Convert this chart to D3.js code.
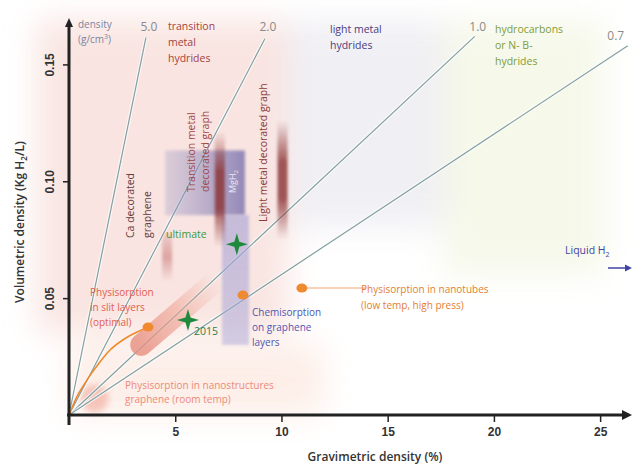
<!DOCTYPE html>
<html><head><meta charset="utf-8">
<script src="https://cdn.jsdelivr.net/npm/d3@7"></script>
<style>
html,body{margin:0;padding:0;background:#fff;}
svg{display:block;font-family:"Open Sans",sans-serif;}
</style></head>
<body><svg id="c" width="632" height="468"></svg>
<script>
// ---- data ----
const xTicks = [5, 10, 15, 20, 25];
const yTicks = [0.05, 0.10, 0.15];
const yTickLabels = ["0.05", "0.10", "0.15"];

const densityLabels = ["5.0", "2.0", "1.0", "0.7"];
const densityEndX = [3.62, 9.22, 19.1, 26.3];
const densityEndY = [0.1615, 0.161, 0.162, 0.158];

// background material classes (x0,x1,y0,y1)
const regionNames = ["transition metal hydrides", "light metal hydrides", "hydrocarbons", "physisorption RT"];
const regionX0 = [-1.5, 10.3, 17.6, 0.0];
const regionX1 = [10.3, 17.6, 25.2, 12.0];
const regionY0 = [0.035, 0.080, 0.060, 0.000];
const regionY1 = [0.169, 0.169, 0.169, 0.030];
const regionColors = ["#f7dcd7", "#ebeaf1", "#f3f6e3", "#fce8e0"];

// purple boxes
const boxNames = ["MgH2", "chemisorption"];
const boxX0 = [4.52, 7.2];
const boxX1 = [8.28, 8.47];
const boxY0 = [0.0855, 0.030];
const boxY1 = [0.1132, 0.0855];

// vertical decorated-graphene bars
const barX = [7.1, 10.05, 4.62];
const barY0 = [0.072, 0.075, 0.057];
const barY1 = [0.121, 0.126, 0.078];

// physisorption in slit layers band
const bandX = [3.4, 7.0];
const bandY = [0.030, 0.058];

// orange curve (physisorption, low temperature)
const curveX = [0, 0.3, 0.85, 1.4, 1.93, 2.6, 3.2, 3.72];
const curveY = [0, 0.0065, 0.015, 0.022, 0.0278, 0.0325, 0.0355, 0.0376];

// points
const orangeX = [3.72, 8.19, 10.96];
const orangeY = [0.0376, 0.0513, 0.0543];
const starX = [7.9, 5.6];
const starY = [0.0731, 0.0406];
const starLabels = ["ultimate", "2015"];
const nanotubeLineEndX = 14.0;

// ---- drawing ----
const svg = d3.select("#c");
const x = d3.scaleLinear().domain([0, 26.5]).range([69, 632]);
const y = d3.scaleLinear().domain([0, 0.169]).range([415, 20]);

const defs = svg.append("defs");
defs.append("filter").attr("id", "blur").attr("x", "-50%").attr("y", "-50%").attr("width", "200%").attr("height", "200%")
  .append("feGaussianBlur").attr("stdDeviation", 16);
defs.append("filter").attr("id", "blur2").attr("x", "-50%").attr("y", "-50%").attr("width", "200%").attr("height", "200%")
  .append("feGaussianBlur").attr("stdDeviation", 3);
defs.append("filter").attr("id", "blur1").attr("x", "-50%").attr("y", "-50%").attr("width", "200%").attr("height", "200%")
  .append("feGaussianBlur").attr("stdDeviation", 1.5);

// vertical gradient for bars
const vg = defs.append("linearGradient").attr("id", "barg").attr("x1", 0).attr("y1", 0).attr("x2", 0).attr("y2", 1);
vg.append("stop").attr("offset", "0%").attr("stop-color", "#8a2e2e").attr("stop-opacity", 0);
vg.append("stop").attr("offset", "35%").attr("stop-color", "#8a2e2e").attr("stop-opacity", 0.8);
vg.append("stop").attr("offset", "65%").attr("stop-color", "#8a2e2e").attr("stop-opacity", 0.8);
vg.append("stop").attr("offset", "100%").attr("stop-color", "#8a2e2e").attr("stop-opacity", 0);
const vg2 = defs.append("linearGradient").attr("id", "barg2").attr("x1", 0).attr("y1", 0).attr("x2", 0).attr("y2", 1);
vg2.append("stop").attr("offset", "0%").attr("stop-color", "#c87a78").attr("stop-opacity", 0.2);
vg2.append("stop").attr("offset", "50%").attr("stop-color", "#c87a78").attr("stop-opacity", 0.6);
vg2.append("stop").attr("offset", "100%").attr("stop-color", "#c87a78").attr("stop-opacity", 0);
// box gradient
const hg = defs.append("linearGradient").attr("id", "boxg").attr("x1", 0).attr("y1", 0).attr("x2", 1).attr("y2", 0);
hg.append("stop").attr("offset", "0%").attr("stop-color", "#9a96c4").attr("stop-opacity", 0.3);
hg.append("stop").attr("offset", "100%").attr("stop-color", "#7872ad").attr("stop-opacity", 0.8);
const cg = defs.append("linearGradient").attr("id", "chemg").attr("x1", 0).attr("y1", 0).attr("x2", 0).attr("y2", 1);
cg.append("stop").attr("offset", "0%").attr("stop-color", "#a9a6d6").attr("stop-opacity", 0.65);
cg.append("stop").attr("offset", "100%").attr("stop-color", "#a9a6d6").attr("stop-opacity", 0.5);
// band gradient
const bg = defs.append("linearGradient").attr("id", "bandg").attr("gradientUnits", "userSpaceOnUse")
  .attr("x1", x(bandX[0])).attr("y1", y(bandY[0])).attr("x2", x(bandX[1])).attr("y2", y(bandY[1]));
bg.append("stop").attr("offset", "0%").attr("stop-color", "#e78f80").attr("stop-opacity", 0.8);
bg.append("stop").attr("offset", "50%").attr("stop-color", "#eea090").attr("stop-opacity", 0.55);
bg.append("stop").attr("offset", "100%").attr("stop-color", "#f2b0a0").attr("stop-opacity", 0);

// background regions
const bgG = svg.append("g").attr("filter", "url(#blur)").attr("opacity", 0.75);
regionNames.forEach((n, i) => {
  bgG.append("rect")
    .attr("x", x(regionX0[i])).attr("y", y(regionY1[i]))
    .attr("width", x(regionX1[i]) - x(regionX0[i]))
    .attr("height", y(regionY0[i]) - y(regionY1[i]))
    .attr("fill", regionColors[i]);
});
// pink blob near origin
svg.append("circle").attr("cx", x(1.2)).attr("cy", y(0.007)).attr("r", 14)
  .attr("fill", "#f0a090").attr("opacity", 0.55).attr("filter", "url(#blur2)");

// density lines
const lg = svg.append("g");
densityLabels.forEach((lab, i) => {
  lg.append("line").attr("x1", x(0)).attr("y1", y(0)).attr("x2", x(densityEndX[i])).attr("y2", y(densityEndY[i]))
    .attr("stroke", "#fff").attr("stroke-width", 3.5).attr("opacity", 0.7);
  lg.append("line").attr("x1", x(0)).attr("y1", y(0)).attr("x2", x(densityEndX[i])).attr("y2", y(densityEndY[i]))
    .attr("stroke", "#839fa1").attr("stroke-width", 1.2);
});

// purple boxes
svg.append("rect").attr("x", x(boxX0[0])).attr("y", y(boxY1[0]))
  .attr("width", x(boxX1[0]) - x(boxX0[0])).attr("height", y(boxY0[0]) - y(boxY1[0]))
  .attr("fill", "url(#boxg)").attr("filter", "url(#blur1)");
svg.append("rect").attr("x", x(boxX0[1])).attr("y", y(boxY1[1]))
  .attr("width", x(boxX1[1]) - x(boxX0[1])).attr("height", y(boxY0[1]) - y(boxY1[1]))
  .attr("fill", "url(#chemg)").attr("filter", "url(#blur1)");

// bars
barX.forEach((bx, i) => {
  svg.append("rect").attr("x", x(bx) - 5).attr("y", y(barY1[i]))
    .attr("width", 10).attr("height", y(barY0[i]) - y(barY1[i]))
    .attr("fill", i === 2 ? "url(#barg2)" : "url(#barg)").attr("filter", "url(#blur1)");
});

// band
svg.append("line").attr("x1", x(bandX[0])).attr("y1", y(bandY[0])).attr("x2", x(bandX[1])).attr("y2", y(bandY[1]))
  .attr("stroke", "url(#bandg)").attr("stroke-width", 22).attr("stroke-linecap", "round");

// nanotube faint line
svg.append("line").attr("x1", x(orangeX[2])).attr("y1", y(orangeY[2])).attr("x2", x(nanotubeLineEndX)).attr("y2", y(orangeY[2]))
  .attr("stroke", "#f6c8a8").attr("stroke-width", 2).attr("opacity", 0.8);

// orange curve
svg.append("path").datum(curveX.map((v, i) => [v, curveY[i]]))
  .attr("d", d3.line().x(d => x(d[0])).y(d => y(d[1])).curve(d3.curveMonotoneX))
  .attr("fill", "none").attr("stroke", "#ee8a2a").attr("stroke-width", 1.6);

// orange dots
orangeX.forEach((ox, i) => {
  svg.append("ellipse").attr("cx", x(ox)).attr("cy", y(orangeY[i])).attr("rx", 5.5).attr("ry", 4.5).attr("fill", "#ef8a30");
});

// green stars (4-point)
starX.forEach((sx, i) => {
  svg.append("path").attr("transform", `translate(${x(sx)},${y(starY[i])})`)
    .attr("d", "M0,-11 L2.5,-2.5 L11,0 L2.5,2.5 L0,11 L-2.5,2.5 L-11,0 L-2.5,-2.5Z")
    .attr("fill", "#1f8a3c");
});

// axes
const xAxis = d3.axisBottom(x).tickValues(xTicks).tickSize(7).tickFormat(d3.format("d"));
const gx = svg.append("g").attr("transform", `translate(0,${y(0)})`).call(xAxis);
gx.select(".domain").remove();
gx.selectAll(".tick line").attr("stroke", "#222").attr("stroke-width", 1.5);
gx.selectAll(".tick text").attr("font-size", 12).attr("fill", "#333").attr("font-weight", 600).attr("dy", "0.9em");

const yAxis = d3.axisLeft(y).tickValues(yTicks).tickSize(6).tickFormat((d, i) => yTickLabels[i]);
const gy = svg.append("g").attr("transform", `translate(${x(0)},0)`).call(yAxis);
gy.select(".domain").remove();
gy.selectAll(".tick line").attr("stroke", "#222").attr("stroke-width", 1.5);
gy.selectAll(".tick text").attr("font-size", 12).attr("fill", "#333").attr("font-weight", 600)
  .attr("text-anchor", "middle").attr("x", 0).attr("dy", 0)
  .attr("transform", "translate(-15,0) rotate(-90)");

// axis lines with arrows
svg.append("line").attr("x1", x(0) - 2).attr("y1", y(0)).attr("x2", 626).attr("y2", y(0)).attr("stroke", "#222").attr("stroke-width", 3);
svg.append("path").attr("d", `M632,${y(0)} L622,${y(0) - 5} L622,${y(0) + 5}Z`).attr("fill", "#222");
svg.append("line").attr("x1", x(0)).attr("y1", y(0) + 10).attr("x2", x(0)).attr("y2", 26).attr("stroke", "#222").attr("stroke-width", 3);
svg.append("path").attr("d", `M${x(0)},18 L${x(0) - 4},27 L${x(0) + 4},27Z`).attr("fill", "#222");

// axis titles
svg.append("text").attr("transform", "translate(24,222) rotate(-90)").attr("text-anchor", "middle")
  .attr("font-size", 12).attr("font-weight", 600).attr("fill", "#333")
  .html('Volumetric density (Kg H<tspan font-size="8" dy="3">2</tspan><tspan dy="-3">/L)</tspan>');
svg.append("text").attr("x", 375).attr("y", 461).attr("text-anchor", "middle")
  .attr("font-size", 12).attr("font-weight", 600).attr("fill", "#333").text("Gravimetric density (%)");

// density labels
densityLabels.forEach((lab, i) => {
  svg.append("text").attr("x", x(densityEndX[i]) + (i === 3 ? -12 : 3)).attr("y", i === 3 ? 40 : 31)
    .attr("text-anchor", "middle").attr("font-size", 12).attr("fill", "#8a8a8a").text(lab);
});
svg.append("text").attr("x", 78).attr("y", 28).attr("font-size", 10).attr("fill", "#7a84a0").text("density");
svg.append("text").attr("x", 78).attr("y", 43).attr("font-size", 10).attr("fill", "#7a84a0")
  .html('(g/cm<tspan font-size="7" dy="-4">3</tspan><tspan dy="4">)</tspan>');

function multi(xp, yp, lines, color, size, lh) {
  const t = svg.append("text").attr("font-size", size).attr("fill", color);
  lines.forEach((l, i) => t.append("tspan").attr("x", xp).attr("y", yp + i * lh).text(l));
  return t;
}
function vmulti(xp, yb, lines, color, size, lh) {
  lines.forEach((l, i) => {
    svg.append("text").attr("transform", `translate(${xp + i * lh},${yb}) rotate(-90)`)
      .attr("font-size", size).attr("fill", color).text(l);
  });
}
multi(168, 30, ["transition", "metal", "hydrides"], "#a3433d", 10.5, 16);
multi(330, 33, ["light metal", "hydrides"], "#4b3c7c", 10.5, 16);
multi(495, 33, ["hydrocarbons", "or N- B-", "hydrides"], "#7f9c35", 10.5, 16);
vmulti(134, 238, ["Ca decorated", "graphene"], "#5e3b3b", 10.5, 17);
vmulti(195, 192, ["Transition metal", "decorated graph"], "#a04848", 10.5, 14);
vmulti(267, 222, ["Light metal decorated graph"], "#8a3838", 10.5, 14);
svg.append("text").attr("transform", "translate(236,193) rotate(-90)").attr("font-size", 9).attr("fill", "#e8e8f4")
  .html('MgH<tspan font-size="6" dy="2">2</tspan>');
svg.append("text").attr("x", 166).attr("y", 238).attr("font-size", 10.5).attr("fill", "#3e9a3a").text(starLabels[0]);
svg.append("text").attr("x", 194).attr("y", 335).attr("font-size", 10.5).attr("fill", "#2f7f3a").text(starLabels[1]);
multi(90, 296, ["Physisorption", "in slit layers", "(optimal)"], "#e2604f", 10, 15);
multi(252, 316, ["Chemisorption", "on graphene", "layers"], "#4f55b0", 10, 15);
multi(361, 293, ["Physisorption in nanotubes", "(low temp, high press)"], "#e58033", 10, 16);
multi(125, 389, ["Physisorption  in nanostructures", "graphene (room temp)"], "#ee8a78", 10, 14);
svg.append("text").attr("x", 565).attr("y", 254).attr("font-size", 10.5).attr("fill", "#3f44a0")
  .html('Liquid H<tspan font-size="7" dy="3">2</tspan>');
svg.append("line").attr("x1", 608).attr("y1", 268).attr("x2", 626).attr("y2", 268).attr("stroke", "#3f44a0").attr("stroke-width", 1.5);
svg.append("path").attr("d", "M632,268 L625,264.5 L625,271.5Z").attr("fill", "#3f44a0");
</script></body></html>
